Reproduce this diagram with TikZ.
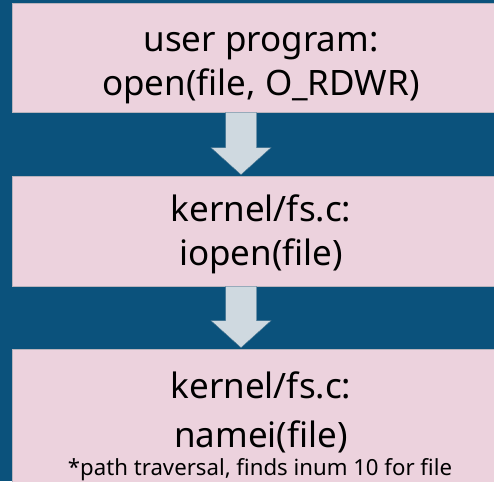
\documentclass[tikz,border=0pt]{standalone}
\usepackage{fontspec}
\setmainfont{Noto Sans}
\usetikzlibrary{calc}
\definecolor{bgblue}{HTML}{0B527C}
\definecolor{boxpink}{HTML}{ECD2DD}
\definecolor{boxedge}{HTML}{B9B3BC}
\definecolor{arrowfill}{HTML}{CFD9E0}
\definecolor{arrowedge}{HTML}{3F6F8D}
\tikzset{
  box/.style={rectangle, fill=boxpink, draw=boxedge, line width=0.6pt, inner sep=0pt, minimum width=498pt},
  bigtext/.style={anchor=base, inner sep=0pt, font=\fontsize{35}{40}\selectfont, text=black},
  smalltext/.style={anchor=base, inner sep=0pt, font=\fontsize{22.2}{26}\selectfont, text=black},
  blockarrow/.style={fill=arrowfill, draw=arrowedge, line width=0.4pt, line join=miter}
}
\newcommand{\flowarrow}[2]{%
  \path let \p1=(#1.south), \p2=(#2.north) in
    [blockarrow] (225.5pt,\y1) -- (256.5pt,\y1) -- (256.5pt,\y2+28pt) -- (271pt,\y2+28pt)
    -- (241pt,\y2+1pt) -- (211pt,\y2+28pt) -- (225.5pt,\y2+28pt) -- cycle;}
\begin{document}
\begin{tikzpicture}[x=1pt,y=1pt]
\fill[bgblue] (0,0) rectangle (494,481);
\useasboundingbox (0,0) rectangle (494,481);
% boxes
\node[box, minimum height=109pt] (b1) at (261,423.5) {};
\node[box, minimum height=110pt] (b2) at (261,250) {};
\node[box, minimum height=172pt] (b3) at (261,46) {};
% texts
\node[bigtext] (t1a) at (261,429) {user program:};
\node[bigtext] (t1b) at (261,385) {open(file, O\_RDWR)};
\node[bigtext] (t2a) at (261,259) {kernel/fs.c:};
\node[bigtext] (t2b) at (261,215) {iopen(file)};
\node[bigtext] (t3a) at (261,82) {kernel/fs.c:};
\node[bigtext] (t3b) at (261,34) {namei(file)};
\node[smalltext] (t3c) at (260,5.5) {*path traversal, finds inum 10 for file};
% arrows
\flowarrow{b1}{b2}
\flowarrow{b2}{b3}
\end{tikzpicture}
\end{document}
